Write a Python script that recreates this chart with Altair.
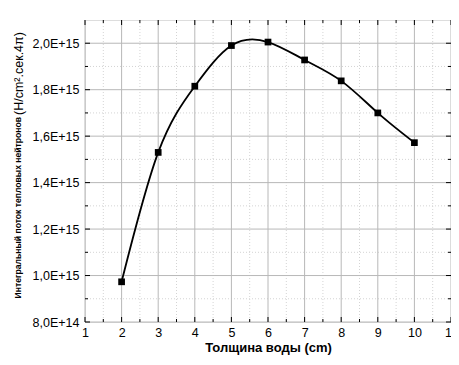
import altair as alt
import pandas as pd

thickness = [2, 3, 4, 5, 6, 7, 8, 9, 10]
flux = [9.73e14, 1.53e15, 1.815e15, 1.99e15, 2.005e15, 1.928e15, 1.838e15, 1.70e15, 1.572e15]

x_major = [1, 2, 3, 4, 5, 6, 7, 8, 9, 10, 11]
x_minor = [1.5, 2.5, 3.5, 4.5, 5.5, 6.5, 7.5, 8.5, 9.5, 10.5]
y_major = [8e14, 1.0e15, 1.2e15, 1.4e15, 1.6e15, 1.8e15, 2.0e15]
y_minor = [9e14, 1.1e15, 1.3e15, 1.5e15, 1.7e15, 1.9e15]

x_title = "Толщина воды  (cm)"
y_title_small = "Интегральный поток тепловых нейтронов"
y_title_big = "(Н/cm².сек.4π)"

XMIN, XMAX = 1, 11
YMIN, YMAX = 8e14, 2.1e15
W, H = 366, 302

df = pd.DataFrame({"x": thickness, "y": flux})

xscale = alt.Scale(domain=[XMIN, XMAX], nice=False, zero=False)
yscale = alt.Scale(domain=[YMIN, YMAX], nice=False, zero=False)

xaxis = alt.Axis(
    values=x_major,
    title=x_title,
    grid=False,
    ticks=False,
    domain=False,
    labelOverlap=False,
    labelFlush=False,
    labelFont="Liberation Sans",
    labelFontSize=12.5,
    labelColor="black",
    labelPadding=4,
    titleFont="Liberation Sans",
    titleFontSize=13,
    titleFontWeight="bold",
    titleColor="black",
    titlePadding=3,
)
yaxis = alt.Axis(
    values=y_major,
    title=None,
    grid=False,
    ticks=False,
    domain=False,
    labelOverlap=False,
    labelFlush=False,
    labelExpr="upper(replace(format(datum.value, '.1e'), '.', ','))",
    labelFont="Liberation Sans",
    labelFontSize=12.5,
    labelColor="black",
    labelPadding=6,
)

X = lambda: alt.X("x:Q", scale=xscale, axis=xaxis)
Y = lambda: alt.Y("y:Q", scale=yscale, axis=yaxis)

def vgrid(vals, color, dash):
    d = pd.DataFrame({"x": vals})
    return alt.Chart(d).mark_rule(color=color, strokeWidth=1, strokeDash=dash).encode(x=X())

def hgrid(vals, color, dash):
    d = pd.DataFrame({"y": vals})
    return alt.Chart(d).mark_rule(color=color, strokeWidth=1, strokeDash=dash).encode(y=Y())

grid_layers = [
    vgrid(x_minor, "#d4d4d4", [1, 2]),
    hgrid(y_minor, "#d4d4d4", [1, 2]),
    vgrid(x_major, "#b8b8b8", [1, 0]),
    hgrid(y_major, "#b8b8b8", [1, 0]),
]

def xticks(vals, length):
    d = pd.DataFrame({"x": vals})
    bot = alt.Chart(d).mark_rule(color="black", strokeWidth=1).encode(
        x=X(), y=alt.value(H), y2=alt.value(H - length))
    top = alt.Chart(d).mark_rule(color="black", strokeWidth=1).encode(
        x=X(), y=alt.value(0), y2=alt.value(length))
    return [bot, top]

def yticks(vals, length):
    d = pd.DataFrame({"y": vals})
    lft = alt.Chart(d).mark_rule(color="black", strokeWidth=1).encode(
        y=Y(), x=alt.value(0), x2=alt.value(length))
    rgt = alt.Chart(d).mark_rule(color="black", strokeWidth=1).encode(
        y=Y(), x=alt.value(W), x2=alt.value(W - length))
    return [lft, rgt]

tick_layers = xticks(x_major, 5) + xticks(x_minor, 3) + yticks(y_major, 5) + yticks(y_minor, 3)

base = alt.Chart(df)
line = base.mark_line(interpolate="natural", color="black", strokeWidth=1.8).encode(x=X(), y=Y())
pts = base.mark_square(size=45, color="black", opacity=1).encode(x=X(), y=Y())

title_df = pd.DataFrame({"a": [y_title_small], "b": [y_title_big]})
t_small = alt.Chart(title_df).mark_text(
    angle=270, align="right", baseline="middle", font="Liberation Sans",
    fontSize=8.6, fontWeight="bold", color="black",
).encode(text="a:N", x=alt.value(-67), y=alt.value(97))
t_big = alt.Chart(title_df).mark_text(
    angle=270, align="left", baseline="middle", font="Liberation Sans",
    fontSize=12.5, color="black",
).encode(text="b:N", x=alt.value(-66), y=alt.value(95))

chart = alt.layer(*grid_layers, *tick_layers, line, pts, t_small, t_big).properties(
    width=W, height=H,
    autosize=alt.AutoSizeParams(type="none"),
    padding={"left": 77, "top": 12, "right": 0, "bottom": 35},
).configure_view(stroke="black", strokeWidth=1).configure(background="white")

chart.save("out.html", embed_options={"renderer": "svg", "actions": False})
